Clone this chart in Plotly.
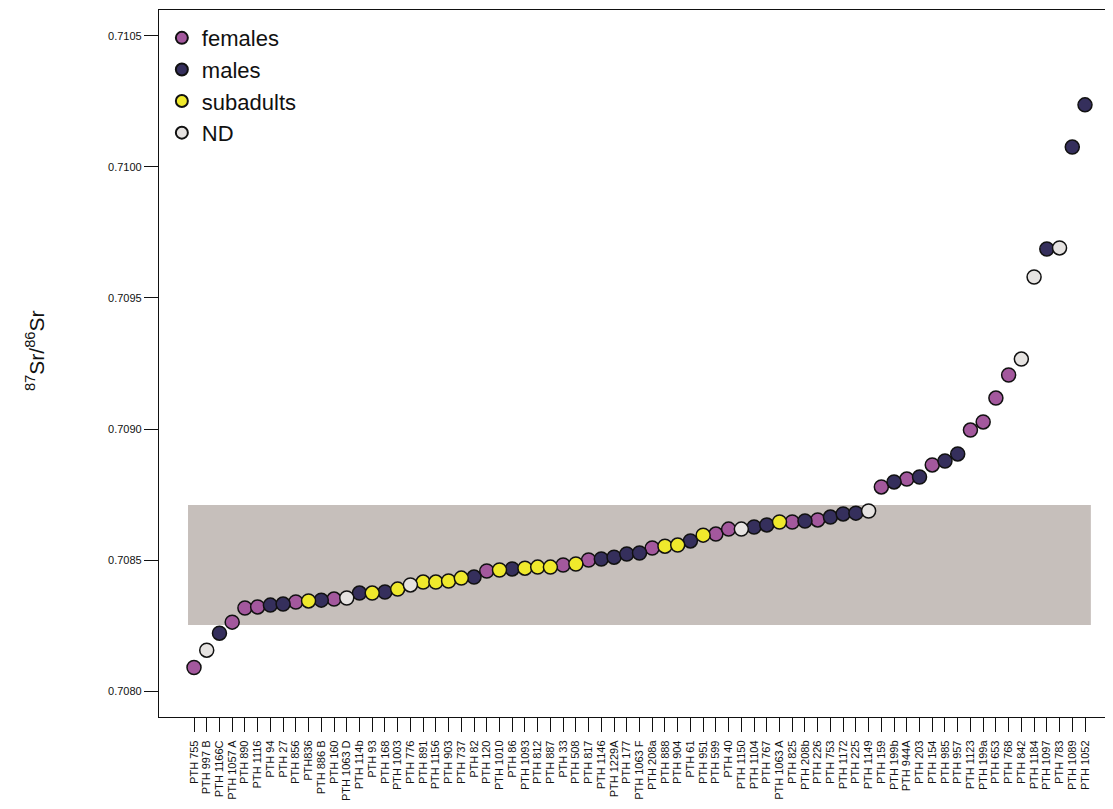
import plotly.graph_objects as go

labels = ["PTH 755", "PTH 997 B", "PTH 1166C", "PTH 1057 A", "PTH 890", "PTH 1116", "PTH 94", "PTH 27",
          "PTH 856", "PTH836", "PTH 886 B", "PTH 160", "PTH 1063 D", "PTH 114b", "PTH 93", "PTH 168",
          "PTH 1003", "PTH 776", "PTH 891", "PTH 1156", "PTH 903", "PTH 737", "PTH 82", "PTH 120",
          "PTH 1010", "PTH 86", "PTH 1093", "PTH 812", "PTH 887", "PTH 33", "PTH 508", "PTH 817",
          "PTH 1146", "PTH 1229A", "PTH 177", "PTH 1063 F", "PTH 208a", "PTH 888", "PTH 904", "PTH 61",
          "PTH 951", "PTH 599", "PTH 40", "PTH 1150", "PTH 1104", "PTH 767", "PTH 1063 A", "PTH 825",
          "PTH 208b", "PTH 226", "PTH 753", "PTH 1172", "PTH 225", "PTH 1149", "PTH 159", "PTH 199b",
          "PTH 944A", "PTH 203", "PTH 154", "PTH 985", "PTH 957", "PTH 1123", "PTH 199a", "PTH 653",
          "PTH 768", "PTH 842", "PTH 1184", "PTH 1097", "PTH 783", "PTH 1089", "PTH 1052"]

sr_ratio = [0.70809, 0.708156, 0.708221, 0.708263, 0.708317, 0.708321, 0.708328, 0.708332,
            0.708340, 0.708344, 0.708347, 0.708351, 0.708355, 0.708374, 0.708374, 0.708378,
            0.708389, 0.708405, 0.708416, 0.708416, 0.708420, 0.708431, 0.708435, 0.708458,
            0.708462, 0.708466, 0.708469, 0.708473, 0.708473, 0.708481, 0.708485, 0.708500,
            0.708504, 0.708511, 0.708523, 0.708527, 0.708546, 0.708553, 0.708557, 0.708573,
            0.708595, 0.708599, 0.708618, 0.708618, 0.708626, 0.708634, 0.708645, 0.708645,
            0.708649, 0.708653, 0.708664, 0.708676, 0.708679, 0.708687, 0.708779, 0.708798,
            0.708809, 0.708817, 0.708863, 0.708878, 0.708905, 0.708996, 0.709027, 0.709118,
            0.709206, 0.709267, 0.709580, 0.709687, 0.709691, 0.710076, 0.710237]

F, M, S, N = "females", "males", "subadults", "ND"
groups = [F, N, M, F, F, F, M, M,
          F, S, M, F, N, M, S, M,
          S, N, S, S, S, S, M, F,
          S, M, S, S, S, F, S, F,
          M, M, M, M, F, S, S, M,
          S, F, F, N, M, M, S, F,
          M, F, M, M, M, N, F, M,
          F, M, F, M, M, F, F, F,
          F, N, N, M, N, M, M]

group_order = [F, M, S, N]
group_colors = {F: "#A3589D", M: "#352F5C", S: "#EFE92C", N: "#E6E3E1"}

band_low, band_high = 0.708252, 0.70871

fig = go.Figure()

fig.add_shape(type="rect", xref="x", yref="y", x0=-0.47, x1=70.46, y0=band_low, y1=band_high,
              fillcolor="#C6BFBB", line=dict(width=0), layer="below")

for g in group_order:
    xs = [i for i, gg in enumerate(groups) if gg == g]
    ys = [sr_ratio[i] for i in xs]
    fig.add_trace(go.Scatter(
        x=xs, y=ys, mode="markers", name=g,
        marker=dict(size=14, color=group_colors[g], line=dict(color="#111111", width=1.5)),
    ))

fig.update_layout(
    width=1105, height=801,
    margin=dict(l=151, r=0, t=2, b=92),
    plot_bgcolor="white", paper_bgcolor="white",
    font=dict(family="Liberation Sans, Arial, Helvetica, sans-serif", color="#111111"),
    showlegend=True,
    legend=dict(x=0.003, y=0.99, xanchor="left", yanchor="top", bgcolor="rgba(0,0,0,0)",
                font=dict(size=22), itemsizing="constant", tracegroupgap=0,
                traceorder="normal"),
    annotations=[dict(text="<sup>87</sup>Sr/<sup>86</sup>Sr", xref="paper", yref="paper",
                      x=-0.13, y=0.519, xanchor="center", yanchor="middle", textangle=-90,
                      showarrow=False, font=dict(size=21))],
)

fig.update_xaxes(
    range=[-2.75, 72.2],
    tickvals=list(range(len(labels))), ticktext=labels, tickangle=-90,
    tickfont=dict(size=11), ticks="outside", ticklen=14, tickwidth=1, tickcolor="#111111",
    ticklabelstandoff=4,
    showgrid=False, zeroline=False, showline=True, linecolor="#111111", linewidth=1.2, mirror=True,
)
fig.update_yaxes(
    range=[0.707901, 0.710599],
    tickvals=[0.7080, 0.7085, 0.7090, 0.7095, 0.7100, 0.7105],
    ticktext=["0.7080", "0.7085", "0.7090", "0.7095", "0.7100", "0.7105"],
    tickfont=dict(size=11), ticks="outside", ticklen=14, tickwidth=1, tickcolor="#111111",
    showgrid=False, zeroline=False, showline=True, linecolor="#111111", linewidth=1.2, mirror=False,
)

fig.write_html("out.html")
